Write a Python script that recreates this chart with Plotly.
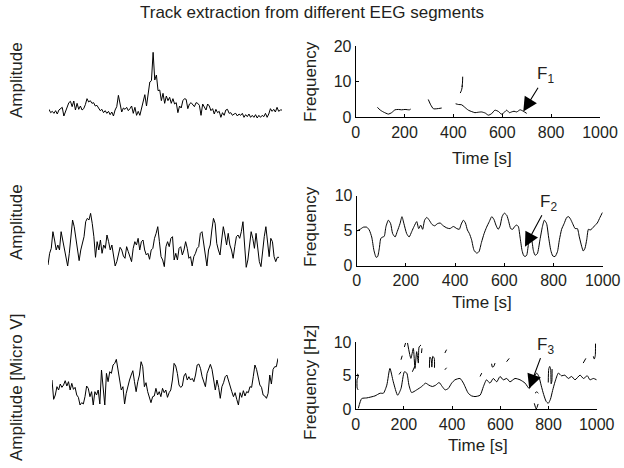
import plotly.graph_objects as go

# ---- EEG segments (left column), amplitude samples ----
eeg1 = [22, 12, 16, 10, 18, 8, 20, 24, 28, 2, 15, 28, 42, 46, 30, 47, 20, 40, 22, 32,
        20, 24, 36, 54, 44, 48, 40, 42, 32, 34, 24, 18, 22, 12, 18, 10, 16, 6, 14, 2,
        20, 30, 64, 40, 14, 26, 22, 28, 18, 24, 32, 10, 28, 4, 16, 4, 24, 44, 66, 32,
        78, 104, 108, 193, 110, 125, 78, 80, 48, 70, 40, 62, 48, 58, 40, 54, 38, 42, 12, 32,
        26, 48, 54, 52, 24, 38, 42, 36, 30, 42, 40, 34, 4, 38, 28, 20, 38, 32, 18, 24,
        8, 22, 12, 16, -2, 12, 4, 20, 22, 10, 12, 4, 8, 10, 2, 8, 4, 10, -2, 6,
        0, 8, -2, 4, -2, 6, -4, 4, -2, 4, 0, 10, -2, 8, 24, 16, 22, 14, 28, 16, 20, 20]

eeg2 = [15, 50, 65, 115, 90, 60, 75, 60, 115, 90, 60, 30, 12, 50, 100, 150, 130, 90, 50, 28,
        60, 85, 100, 145, 155, 150, 170, 140, 100, 38, 85, 60, 90, 50, 75, 65, 105, 85, 60, 75,
        40, 12, 25, 45, 68, 60, 42, 35, 70, 55, 38, 25, 65, 85, 75, 95, 60, 85, 90, 60,
        45, 50, 32, 60, 65, 95, 110, 130, 85, 40, 30, 10, 70, 85, 70, 95, 100, 30, 50, 30,
        65, 70, 45, 60, 85, 65, 35, 40, 12, 40, 50, 65, 70, 110, 115, 80, 45, 12, 60, 75,
        120, 155, 140, 80, 60, 45, 90, 130, 105, 75, 110, 75, 60, 35, 70, 100, 105, 95, 115, 145,
        75, 8, 30, 65, 115, 95, 65, 110, 60, 25, 10, 60, 100, 130, 80, 40, 95, 85, 40, 25,
        38, 38]

eeg3 = [90, 32, 45, 70, 60, 78, 68, 75, 88, 72, 85, 60, 80, 62, 68, 45, 38, 15, 22, 18,
        40, 72, 65, 40, 55, 15, 55, 45, 60, 18, 120, 60, 15, 110, 85, 115, 110, 135, 140, 152,
        125, 90, 60, 70, 18, 50, 75, 90, 105, 118, 85, 55, 85, 105, 145, 130, 70, 82, 55, 35,
        22, 40, 42, 65, 45, 55, 40, 65, 52, 60, 38, 52, 60, 90, 140, 132, 110, 75, 68, 72,
        102, 110, 90, 100, 90, 95, 85, 105, 135, 138, 125, 100, 85, 70, 110, 125, 137, 122, 85, 60,
        90, 68, 35, 70, 82, 100, 105, 88, 65, 55, 40, 52, 32, 15, 52, 38, 58, 42, 55, 52,
        70, 68, 100, 135, 122, 100, 75, 68, 45, 42, 35, 50, 105, 78, 122, 130, 130, 155]

# ---- extracted frequency tracks (right column), None = break ----
track1_t = [89, 99, 113, 134, 147, 161, 175, 188, 202, 220, 225, None,
            297, 307, 318, 332, 352, None,
            438, 437, 435, 437, 433, 428, None,
            409, 420, 434, 445, 461, 475, 488, 500, 515, 530, 543, 556, 570, 585, 596, 607, 618,
            629, 638, 648, 659, 673, 686, 700]
track1_f = [2.8, 2.1, 1.5, 0.9, 1.3, 2.1, 2.2, 2.1, 2.2, 2.1, 2.3, None,
            5.0, 3.5, 2.4, 2.4, 2.6, None,
            11.4, 9.6, 8.6, 8.9, 7.6, 6.8, None,
            3.8, 3.6, 3.5, 2.9, 2.0, 1.6, 1.3, 1.4, 1.5, 1.2, 0.6, 1.0, 2.0, 1.6, 0.9, 1.3, 2.0,
            1.3, 1.5, 1.7, 1.5, 2.1, 1.7, 1.1]

track2_t = [0, 14, 27, 41, 51, 61, 70, 79, 85, 92, 98, 106, 112, 119, 129, 138, 146, 156, 165, 176,
            184, 192, 203, 213, 224, 233, 244, 252, 260, 268, 276, 285, 295, 306, 317, 328, 339, 352, 366, 379,
            393, 407, 417, 425, 434, 442, 450, 458, 467, 477, 488, 497, 507, 518, 528, 539, 549, 558, 566, 575,
            583, 591, 600, 610, 618, 626, 634, 642, 650, 657, 664, 672, 678, 684, 691, 698, 705, 711, 718, 725,
            734, 745, 755, 763, 772, 780, 789, 797, 806, 816, 824, 833, 843, 854, 862, 870, 878, 888, 897, 905,
            915, 921, 928, 935, 942, 949, 957, 967, 978, 989, 999]
track2_f = [4.95, 5.2, 5.5, 5.5, 5.1, 4.1, 2.2, 1.2, 1.3, 2.5, 3.9, 4.1, 4.2, 5.6, 6.5, 6.0, 4.6, 4.1, 4.9, 6.0,
            7.0, 6.0, 4.6, 4.1, 4.9, 5.6, 6.3, 5.3, 5.8, 5.2, 6.5, 6.9, 6.5, 5.9, 5.7, 6.0, 6.1, 5.7, 5.4, 5.3,
            5.6, 5.3, 5.2, 5.95, 6.5, 6.1, 5.1, 4.6, 3.7, 2.2, 1.8, 2.0, 3.3, 4.6, 5.5, 6.3, 7.0, 6.6, 5.8, 5.2,
            5.7, 7.0, 7.5, 7.2, 6.3, 5.3, 5.2, 5.6, 5.8, 5.6, 4.1, 2.2, 1.5, 1.3, 1.5, 3.0, 3.9, 3.7, 2.2, 1.5,
            1.7, 3.7, 5.6, 6.5, 6.0, 4.1, 2.2, 1.4, 1.3, 2.0, 3.7, 5.2, 6.0, 6.9, 7.0, 6.6, 6.0, 5.3, 5.3, 4.1,
            2.7, 2.1, 2.5, 3.7, 5.2, 5.1, 5.3, 5.7, 6.1, 6.9, 7.6]

track3_t = [11, 25, 46, 80, 101, 115, 129, 142, 156, 174, 188, 202, 212, 221, 232, 253, 274, 290, 304, 318,
            332, 346, 359, 371, 384, 398, 412, 433, 447, 467, 481, 495, 516, 530, 543, 557, 571, 585, 599, 612,
            627, 640, 661, 682, 703, 720, 735, 751, 760, 770, 780, 790, 799, 808, 817, 827, 841, 854, 868, 882,
            896, 910, 931, 945, 961, 972, 986, 1000, None,
            8, 10, 6, 6, 10, None,
            180, 188, None, 188, 193, None, 202, 207, None,
            215, 229, 239, 246, 253, 260, 263, 271, None,
            235, 245, None, 273, 275, None,
            306, 308, 313, 316, 320, 326, 327, None,
            370, 377, None, 370, 377, None,
            516, 523, None, 564, 567, 573, 578, None, 626, 637, None,
            744, 751, 758, None, 741, 749, 757, None,
            799, 801, 805, 809, 811, 814, 815, None,
            944, 955, None, 995, 994, 990, 986]
track3_f = [0.15, 1.6, 1.7, 2.0, 2.4, 2.4, 3.6, 6.1, 4.1, 2.1, 3.1, 5.6, 5.4, 3.6, 2.5, 2.9, 3.4, 3.9, 3.6, 3.4,
            3.6, 4.0, 3.4, 2.9, 3.1, 3.9, 4.4, 4.6, 3.9, 2.4, 2.0, 1.9, 2.1, 3.4, 4.4, 3.9, 4.6, 4.1, 4.9, 4.4,
            4.6, 4.1, 4.6, 4.4, 3.9, 3.1, 4.4, 5.4, 4.9, 3.5, 2.2, 1.2, 0.9, 1.5, 2.8, 4.1, 5.4, 5.0, 5.1, 4.6,
            4.9, 4.4, 5.1, 4.6, 5.0, 4.4, 4.6, 4.4, None,
            5.3, 4.8, 4.5, 3.2, 2.9, None,
            5.2, 5.6, None, 7.4, 8.0, None, 9.3, 9.9, None,
            9.9, 7.6, 9.1, 6.1, 8.6, 6.9, 9.3, 9.6, None,
            5.6, 6.4, None, 8.4, 9.1, None,
            6.2, 7.8, 7.5, 6.3, 7.9, 7.6, 6.2, None,
            8.4, 8.9, None, 5.9, 6.2, None,
            4.9, 5.4, None, 6.8, 6.3, 6.4, 6.9, None, 7.1, 7.6, None,
            2.4, 2.6, 2.4, None, 0.9, 0.05, 0.8, None,
            4.0, 6.0, 6.4, 6.0, 3.8, 4.2, 6.0, None,
            6.9, 7.6, None, 9.8, 8.0, 7.5, 7.9]

time_ticks = [0, 200, 400, 600, 800, 1000]

W, H = 624, 468
FONT = "Liberation Sans, Arial, Helvetica, sans-serif"
INK = "#231f20"


def xdom(a, b):
    return [a / W, b / W]


def ydom(top, bottom):
    return [1 - bottom / H, 1 - top / H]


fig = go.Figure()

line = dict(color="black", width=1)
fig.add_trace(go.Scatter(x=list(range(len(eeg1))), y=eeg1, mode="lines", line=line, xaxis="x", yaxis="y"))
fig.add_trace(go.Scatter(x=list(range(len(eeg2))), y=eeg2, mode="lines", line=line, xaxis="x3", yaxis="y3"))
fig.add_trace(go.Scatter(x=list(range(len(eeg3))), y=eeg3, mode="lines", line=line, xaxis="x5", yaxis="y5"))

sline = dict(color="black", width=1, shape="spline", smoothing=0.6)
fig.add_trace(go.Scatter(x=track1_t, y=track1_f, mode="lines", line=sline, xaxis="x2", yaxis="y2"))
fig.add_trace(go.Scatter(x=track2_t, y=track2_f, mode="lines", line=sline, xaxis="x4", yaxis="y4"))
fig.add_trace(go.Scatter(x=track3_t, y=track3_f, mode="lines", line=sline, xaxis="x6", yaxis="y6"))

hidden = dict(visible=False, automargin=False)
axis_style = dict(showline=True, linecolor="black", linewidth=1, ticks="inside", ticklen=3,
                  tickcolor="black", showgrid=False, zeroline=False, automargin=False,
                  tickfont=dict(family=FONT, size=16, color=INK))

fig.update_layout(
    template="none",
    width=W, height=H,
    margin=dict(l=0, r=0, t=0, b=0, pad=0),
    paper_bgcolor="white", plot_bgcolor="white",
    showlegend=False, hovermode=False,
    font=dict(family=FONT, color=INK),
    # left column
    xaxis=dict(hidden, domain=xdom(49, 282), range=[0, len(eeg1) - 1]),
    yaxis=dict(hidden, domain=ydom(50, 120), range=[-10, 200]),
    xaxis3=dict(hidden, domain=xdom(48, 279), range=[0, len(eeg2) - 1]),
    yaxis3=dict(hidden, domain=ydom(206.7, 273.3), range=[-10, 190]),
    xaxis5=dict(hidden, domain=xdom(52, 278), range=[0, len(eeg3) - 1]),
    yaxis5=dict(hidden, domain=ydom(356.7, 410), range=[0, 160]),
    # right column
    xaxis2=dict(axis_style, domain=xdom(355.7, 600), range=[0, 1000], tickvals=time_ticks, anchor="y2"),
    yaxis2=dict(axis_style, domain=ydom(46, 117.3), range=[0, 20], tickvals=[0, 10, 20], anchor="x2"),
    xaxis4=dict(axis_style, domain=xdom(356.7, 602.7), range=[0, 1000], tickvals=time_ticks, anchor="y4"),
    yaxis4=dict(axis_style, domain=ydom(195.7, 265.7), range=[0, 10], tickvals=[0, 5, 10], anchor="x4"),
    xaxis6=dict(axis_style, domain=xdom(355.7, 596.7), range=[0, 1000], tickvals=time_ticks, anchor="y6"),
    yaxis6=dict(axis_style, domain=ydom(342.3, 409.3), range=[0, 10], tickvals=[0, 5, 10], anchor="x6"),
)

ann = []


def text_at(px, py, s, size=17, angle=0):
    ann.append(dict(xref="paper", yref="paper", x=px / W, y=1 - py / H, text=s, showarrow=False,
                    textangle=angle, xanchor="center", yanchor="middle",
                    font=dict(family=FONT, size=size, color=INK)))


text_at(312, 12, "Track extraction from different EEG segments")
text_at(16, 80, "Amplitude", angle=-90)
text_at(16, 222, "Amplitude", angle=-90)
text_at(16, 388, "Amplitude [Micro V]", angle=-90)
text_at(310, 82, "Frequency", angle=-90)
text_at(310, 227, "Frequency", angle=-90)
text_at(310, 383, "Frequency [Hz]", angle=-90)
text_at(482, 158, "Time [s]")
text_at(482, 302, "Time [s]")
text_at(478, 445, "Time [s]")

# arrows from the F labels to the tracks
arrows = [("x2", "y2", 686, 1.6, 778, 11.8, "F<sub>1</sub>"),
          ("x4", "y4", 684, 2.7, 780, 9.0, "F<sub>2</sub>"),
          ("x6", "y6", 720, 3.1, 786, 9.5, "F<sub>3</sub>")]
for xr, yr, hx, hy, lx, ly, lab in arrows:
    ann.append(dict(xref=xr, yref=yr, axref=xr, ayref=yr, x=hx, y=hy, ax=lx, ay=ly, text=lab,
                    showarrow=True, arrowhead=2, arrowsize=2.6, arrowwidth=1.1, arrowcolor="black",
                    font=dict(family=FONT, size=17, color=INK)))

fig.update_layout(annotations=ann)

# page body has a default 8px margin; drop it so the figure sits at the window origin
fig.write_html("out.html", config={"displayModeBar": False},
               post_script="document.body.style.margin='0px';")
